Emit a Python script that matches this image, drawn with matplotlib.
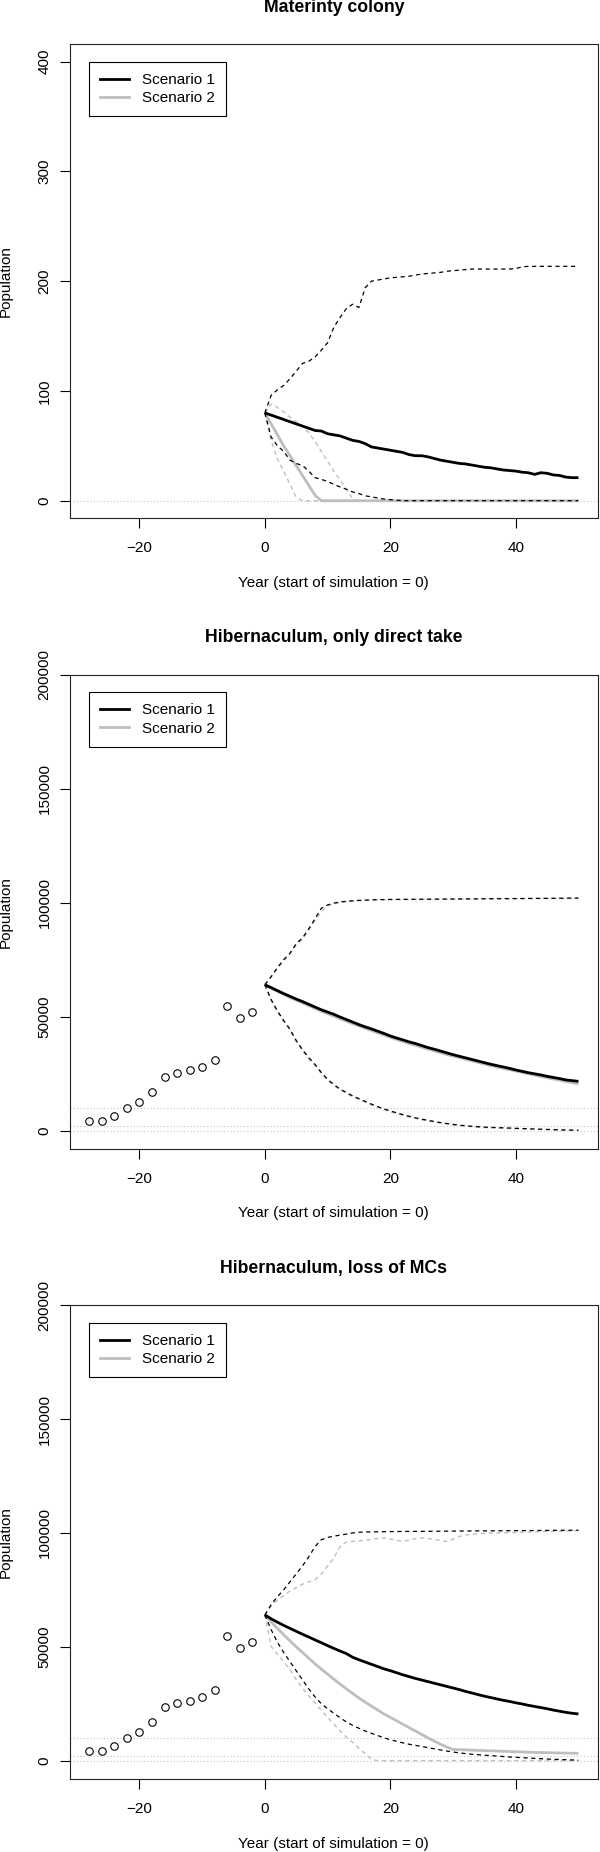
import matplotlib
matplotlib.use("Agg")
import matplotlib.pyplot as plt
from matplotlib.lines import Line2D

plt.rcParams['font.family'] = ['Liberation Sans', 'DejaVu Sans']
plt.rcParams['lines.scale_dashes'] = False
plt.rcParams['axes.unicode_minus'] = True

# ---------------- data ----------------
titles = ["Materinty colony", "Hibernaculum, only direct take", "Hibernaculum, loss of MCs"]
legend_labels = ["Scenario 1", "Scenario 2"]
x_label = "Year (start of simulation = 0)"
y_label = "Population"

x_ticks = [-20, 0, 20, 40]
x_tick_labels = ["\u221220", "0", "20", "40"]
p1_yticks = [0, 100, 200, 300, 400]
hib_yticks = [0, 50000, 100000, 150000, 200000]

years_sim = list(range(0, 51))

obs_years = [-28, -26, -24, -22, -20, -18, -16, -14, -12, -10, -8, -6, -4, -2]
obs_pop = [4200, 4400, 6600, 10100, 12700, 16900, 23700, 25100, 26400, 28100,
           31000, 54700, 49600, 52200]

p1_thresholds = [0]
hib_thresholds = [0, 2000, 10000]

# Panel 1: maternity colony
p1_s1_mean = [80, 78, 76, 74, 72, 70, 68, 66, 64, 63.5,
              61, 60, 59, 57, 55, 54, 52, 49, 48, 47,
              46, 45, 44, 42, 41, 41, 40, 38.5, 37, 36,
              35, 34, 33.5, 32.5, 31.5, 30.5, 30, 29, 28, 27.5,
              27, 26, 25.5, 24, 25.5, 25, 23.5, 23, 21.5, 21,
              21]
p1_s1_upper = [80, 96, 101, 105, 111, 118, 125, 127, 131, 137,
               144, 158, 167, 175, 179, 176, 194, 200, 201, 202,
               203, 203.5, 204, 204.5, 205.5, 206.5, 207, 207.5, 208, 209,
               209.5, 210, 210.5, 211, 211, 211, 211, 211, 211, 211,
               211.5, 213, 213.5, 213.5, 213.5, 213.5, 213.5, 213.5, 213.5, 213.5,
               213.5]
p1_s1_lower = [80, 58, 50, 45, 37, 34, 32, 27, 21, 19.5,
               17.5, 15, 12.5, 10.5, 8, 6.5, 4.5, 3.5, 2.5, 1.5,
               1, 0.5, 0, 0, 0, 0, 0, 0, 0, 0,
               0, 0, 0, 0, 0, 0, 0, 0, 0, 0,
               0, 0, 0, 0, 0, 0, 0, 0, 0, 0,
               0]
p1_s2_mean = [80, 70, 60, 50, 41, 32, 23, 14, 5, 0,
              0, 0, 0, 0, 0, 0, 0, 0, 0, 0,
              0, 0, 0, 0, 0, 0, 0, 0, 0, 0,
              0, 0, 0, 0, 0, 0, 0, 0, 0, 0,
              0, 0, 0, 0, 0, 0, 0, 0, 0, 0,
              0]
p1_s2_upper = [80, 88, 85, 81, 76, 72, 68, 62, 54, 45,
               36, 27, 19, 10, 2, 0, 0, 0, 0, 0,
               0, 0, 0, 0, 0, 0, 0, 0, 0, 0,
               0, 0, 0, 0, 0, 0, 0, 0, 0, 0,
               0, 0, 0, 0, 0, 0, 0, 0, 0, 0,
               0]
p1_s2_lower = [80, 55, 38, 27, 15, 3, 0, 0, 0, 0,
               0, 0, 0, 0, 0, 0, 0, 0, 0, 0,
               0, 0, 0, 0, 0, 0, 0, 0, 0, 0,
               0, 0, 0, 0, 0, 0, 0, 0, 0, 0,
               0, 0, 0, 0, 0, 0, 0, 0, 0, 0,
               0]

# Panel 2: hibernaculum, only direct take
p2_s1_mean = [64000, 62700, 61400, 60100, 58900, 57700, 56600, 55400, 54200, 53000,
              52000, 51000, 49800, 48700, 47600, 46500, 45500, 44600, 43600, 42600,
              41500, 40600, 39800, 38900, 38200, 37300, 36400, 35700, 34900, 34100,
              33300, 32600, 31900, 31200, 30500, 29800, 29100, 28500, 27900, 27300,
              26600, 26000, 25400, 24900, 24400, 23800, 23300, 22800, 22200, 21900,
              21600]
p2_s2_mean = [64000, 62500, 61100, 59700, 58400, 57200, 56000, 54800, 53600, 52400,
              51300, 50200, 49100, 48000, 46900, 45900, 44900, 43900, 42900, 41900,
              40900, 40000, 39100, 38200, 37400, 36600, 35800, 35000, 34200, 33400,
              32700, 32000, 31300, 30600, 29900, 29200, 28500, 27900, 27300, 26700,
              26100, 25500, 24900, 24300, 23700, 23200, 22600, 22100, 21500, 21000,
              20500]
p2_s1_upper = [64000, 67500, 71500, 75000, 77800, 82000, 84500, 88500, 93000, 97500,
               99000, 99800, 100300, 100600, 100800, 101000, 101100, 101200, 101300, 101350,
               101400, 101420, 101440, 101460, 101480, 101500, 101520, 101540, 101560, 101580,
               101600, 101620, 101640, 101660, 101680, 101700, 101720, 101740, 101760, 101780,
               101800, 101820, 101840, 101860, 101880, 101900, 101920, 101940, 101960, 101980,
               102000]
p2_s2_upper = [64000, 67500, 71000, 74500, 77500, 81500, 84000, 88000, 92000, 96000,
               98500, 99500, 100000, 100400, 100700, 100900, 101000, 101100, 101200, 101250,
               101300, 101320, 101340, 101360, 101380, 101400, 101420, 101440, 101460, 101480,
               101500, 101520, 101540, 101560, 101580, 101600, 101620, 101640, 101660, 101680,
               101700, 101720, 101740, 101760, 101780, 101800, 101820, 101840, 101860, 101880,
               101900]
p2_s1_lower = [64000, 57500, 52500, 48300, 44500, 39500, 35500, 32000, 29000, 25500,
               22500, 20200, 18200, 16700, 15200, 14000, 12800, 11600, 10500, 9500,
               8600, 7800, 7000, 6300, 5600, 5000, 4500, 4000, 3500, 3100,
               2700, 2400, 2100, 1900, 1700, 1500, 1400, 1300, 1200, 1100,
               1000, 900, 800, 700, 600, 500, 400, 300, 250, 200,
               150]
p2_s2_lower = [64000, 57000, 52000, 47800, 44000, 39000, 35000, 31500, 28500, 25000,
               22000, 19800, 17800, 16300, 14800, 13600, 12400, 11200, 10100, 9100,
               8200, 7400, 6600, 5900, 5300, 4700, 4200, 3700, 3300, 2900,
               2500, 2200, 1900, 1700, 1500, 1300, 1200, 1100, 1000, 900,
               800, 700, 600, 500, 450, 400, 300, 250, 200, 150,
               100]

# Panel 3: hibernaculum, loss of MCs
p3_s1_mean = [64000, 62300, 60800, 59400, 58100, 56800, 55500, 54300, 53000, 51800,
              50500, 49300, 48100, 47000, 45400, 44300, 43300, 42300, 41300, 40300,
              39500, 38600, 37700, 36900, 36100, 35400, 34700, 34000, 33300, 32600,
              31900, 31200, 30400, 29700, 29000, 28300, 27700, 27100, 26500, 26000,
              25400, 24900, 24300, 23800, 23300, 22800, 22200, 21700, 21200, 20800,
              20500]
p3_s2_mean = [64000, 61000, 58000, 55300, 52600, 50000, 47500, 45000, 42500, 40200,
              38000, 35800, 33600, 31500, 29500, 27500, 25700, 23900, 22200, 20500,
              19000, 17500, 16000, 14500, 13000, 11500, 10000, 8600, 7200, 6000,
              4900, 4800, 4700, 4600, 4500, 4400, 4300, 4200, 4100, 4000,
              3900, 3800, 3700, 3600, 3550, 3500, 3400, 3350, 3300, 3250,
              3200]
p3_s1_upper = [64000, 68500, 72000, 75000, 78500, 82000, 85500, 89500, 94000, 97000,
               98000, 98600, 99000, 99500, 100000, 100300, 100400, 100450, 100500, 100550,
               100600, 100620, 100640, 100660, 100680, 100700, 100720, 100740, 100760, 100780,
               100800, 100820, 100840, 100860, 100880, 100900, 100920, 100940, 100960, 100980,
               101000, 101020, 101040, 101060, 101080, 101100, 101120, 101140, 101160, 101180,
               101200]
p3_s2_upper = [64000, 68000, 70500, 72500, 74500, 76000, 77500, 78500, 79500, 82000,
               85500, 89000, 94000, 96000, 96300, 96500, 96800, 97200, 97600, 97800,
               97300, 96800, 96300, 96800, 97500, 97800, 97600, 97200, 96700, 96300,
               97300, 98400, 99100, 99400, 99600, 99800, 99900, 100000, 100100, 100150,
               100200, 100280, 100360, 100440, 100520, 100600, 100680, 100760, 100840, 100920,
               101000]
p3_s1_lower = [64000, 57500, 52000, 47500, 43500, 39500, 35500, 31500, 28000, 25000,
               22800, 20800, 18800, 17000, 15500, 14200, 13000, 12000, 11000, 10000,
               9200, 8500, 7800, 7200, 6700, 6200, 5700, 5200, 4700, 4200,
               3800, 3400, 3100, 2800, 2600, 2400, 2200, 2000, 1800, 1600,
               1450, 1300, 1150, 1000, 850, 700, 600, 500, 400, 300,
               200]
p3_s2_lower = [64000, 50100, 46800, 43500, 40000, 35500, 31800, 28500, 25300, 22100,
               19000, 16000, 13000, 10300, 8000, 5500, 3000, 600, 0, 0,
               0, 0, 0, 0, 0, 0, 0, 0, 0, 0,
               0, 0, 0, 0, 0, 0, 0, 0, 0, 0,
               0, 0, 0, 0, 0, 0, 0, 0, 0, 0,
               0]

# ---------------- styling / layout ----------------
BLACK = "#000000"
GREY = "#bebebe"
DOT_GREY = "#c4c4c4"
FS = 11

W, H = 600, 1852
fig = plt.figure(figsize=(W / 100, H / 100), dpi=100)

panels = [
    dict(title=titles[0], s1=(p1_s1_mean, p1_s1_upper, p1_s1_lower),
         s2=(p1_s2_mean, p1_s2_upper, p1_s2_lower), obs=False,
         yticks=p1_yticks, ylim=(-16, 416), thr=p1_thresholds),
    dict(title=titles[1], s1=(p2_s1_mean, p2_s1_upper, p2_s1_lower),
         s2=(p2_s2_mean, p2_s2_upper, p2_s2_lower), obs=True,
         yticks=hib_yticks, ylim=(-8000, 200100), thr=hib_thresholds),
    dict(title=titles[2], s1=(p3_s1_mean, p3_s1_upper, p3_s1_lower),
         s2=(p3_s2_mean, p3_s2_upper, p3_s2_lower), obs=True,
         yticks=hib_yticks, ylim=(-8200, 200100), thr=hib_thresholds),
]

left_px, width_px, height_px = 69.7, 528.3, 474.3
for k, p in enumerate(panels):
    top_px = 44 + k * 630.5
    ax = fig.add_axes([left_px / W, 1 - (top_px + height_px) / H,
                       width_px / W, height_px / H])

    for v in p["thr"]:
        ax.axhline(v, color=DOT_GREY, lw=0.8, linestyle=(0, (0.8, 1.6)), zorder=1)

    m2, u2, l2 = p["s2"]
    m1, u1, l1 = p["s1"]
    ax.plot(years_sim, u2, color=GREY, lw=1.0, dashes=(3, 2.6), zorder=2)
    ax.plot(years_sim, l2, color=GREY, lw=1.0, dashes=(3, 2.6), zorder=2)
    ax.plot(years_sim, m2, color=GREY, lw=2.0, solid_capstyle="butt", zorder=3)
    ax.plot(years_sim, u1, color=BLACK, lw=0.9, dashes=(3, 2.6), zorder=4)
    ax.plot(years_sim, l1, color=BLACK, lw=0.9, dashes=(3, 2.6), zorder=4)
    ax.plot(years_sim, m1, color=BLACK, lw=2.0, solid_capstyle="butt", zorder=5)

    if p["obs"]:
        ax.plot(obs_years, obs_pop, linestyle="none", marker="o", ms=5.4,
                mfc="none", mec=BLACK, mew=0.8, zorder=6)

    ax.set_xlim(-31.12, 53.12)
    ax.set_ylim(*p["ylim"])
    ax.set_xticks(x_ticks)
    ax.set_xticklabels(x_tick_labels)
    ax.set_yticks(p["yticks"])
    ax.set_yticklabels([str(t) for t in p["yticks"]])
    ax.tick_params(direction="out", length=7, width=0.8, labelsize=FS, colors=BLACK)
    ax.tick_params(axis="x", pad=9.5)
    ax.tick_params(axis="y", pad=6.0)
    for lab in ax.get_yticklabels():
        lab.set_rotation(90)
        lab.set_va("center")
    for sp in ax.spines.values():
        sp.set_linewidth(0.8)
        sp.set_color("#222222")

    ax.set_title(p["title"], fontsize=12.7, fontweight="bold", y=1 + 37 / height_px,
                 va="center", pad=0)
    ax.set_xlabel(x_label, fontsize=FS)
    ax.xaxis.set_label_coords(0.5, -64.6 / height_px)
    ax.xaxis.label.set_va("center")
    ax.set_ylabel(y_label, fontsize=FS)
    ax.yaxis.set_label_coords((6.2 - left_px) / width_px, 0.5)
    ax.yaxis.label.set_va("center")

    handles = [Line2D([], [], color=BLACK, lw=2.0), Line2D([], [], color=GREY, lw=2.0)]
    leg = ax.legend(handles, legend_labels, loc="upper left",
                    bbox_to_anchor=((89.3 - left_px) / width_px, 1 - 17.7 / height_px),
                    borderaxespad=0, frameon=True, fancybox=False, framealpha=1,
                    edgecolor=BLACK, fontsize=FS, handlelength=1.9,
                    handletextpad=0.8, borderpad=0.73, labelspacing=0.28)
    leg.get_frame().set_linewidth(0.8)

fig.savefig("out.png", dpi=100)
